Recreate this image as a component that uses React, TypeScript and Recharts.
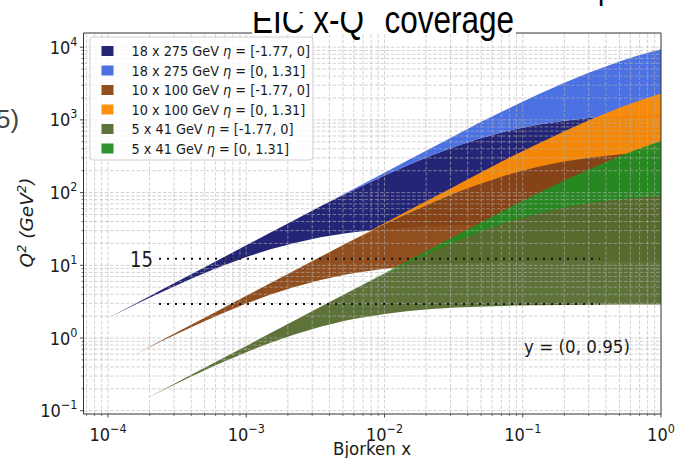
import React from 'react';
import { ComposedChart, Area, XAxis, YAxis, ReferenceLine } from 'recharts';

// Bjorken x sample points
const xs = [1.0e-4, 1.527e-4, 1.862e-4, 2.5e-4, 4e-4, 6e-4, 1e-3, 1.5e-3, 2.2e-3, 3.445e-3, 5.263e-3, 6.418e-3, 1e-2, 1.5e-2, 2.2e-2, 3.3e-2, 4.732e-2, 7.229e-2, 8.816e-2, 0.13, 0.2, 0.3, 0.5, 0.7, 1.0];

const _ = null;
// 18 x 275 GeV
const dark18Low = [1.881, 2.798, 3.358, 4.374, 6.542, 9.028, 12.97, 16.59, 20.18, 24.24, 27.63, 29.02, 31.6, 33.38, 34.61, 35.55, 36.15, 36.64, 36.81, 37.06, 37.25, 37.36, 37.46, 37.5, 37.53];
const dark18High = [1.881, 2.872, 3.502, 4.703, 7.524, 11.29, 18.81, 28.22, 41.38, 64.8, 96.45, 115.7, 171.8, 241.6, 326.0, 434.4, 543.8, 680.1, 743.8, 862.0, 976.4, 1064, 1146, 1185, 1216];
const light18Low = [_, _, _, _, _, _, _, _, _, 64.8, 96.45, 115.7, 171.8, 241.6, 326.0, 434.4, 543.8, 680.1, 743.8, 862.0, 976.4, 1064, 1146, 1185, 1216];
const light18High = [_, _, _, _, _, _, _, _, _, 64.8, 99.0, 120.7, 188.1, 282.2, 413.8, 620.7, 890.1, 1325, 1590, 2249, 3239, 4454, 6362, 7793, 9374];
// 10 x 100 GeV
const dark10Low = [_, 0.5803, 0.6999, 0.9207, 1.406, 1.989, 2.975, 3.955, 5.005, 6.299, 7.481, 7.992, 8.995, 9.724, 10.25, 10.67, 10.93, 11.16, 11.23, 11.35, 11.44, 11.49, 11.54, 11.56, 11.57];
const dark10High = [_, 0.5803, 0.7076, 0.95, 1.52, 2.28, 3.8, 5.7, 8.36, 13.09, 20.0, 24.12, 36.36, 52.17, 72.13, 99.25, 128.5, 167.8, 187.4, 226.1, 266.7, 300.0, 333.3, 350.0, 363.6];
const light10Low = [_, _, _, _, _, _, _, _, _, _, 20.0, 24.12, 36.36, 52.17, 72.13, 99.25, 128.5, 167.8, 187.4, 226.1, 266.7, 300.0, 333.3, 350.0, 363.6];
const light10High = [_, _, _, _, _, _, _, _, _, _, 20.0, 24.39, 38.0, 57.0, 83.6, 125.4, 179.8, 274.7, 331.4, 475.0, 698.3, 984.9, 1466, 1855, 2315];
// 5 x 41 GeV
const dark5Low = [_, _, 0.1451, 0.1915, 0.2947, 0.4207, 0.6393, 0.8637, 1.112, 1.431, 1.735, 1.87, 2.143, 2.347, 2.499, 2.62, 2.699, 2.765, 2.789, 2.824, 2.85, 2.867, 2.88, 2.886, 2.89];
const dark5High = [_, _, 0.1451, 0.1948, 0.3116, 0.4674, 0.779, 1.169, 1.714, 2.684, 4.1, 5.0, 7.579, 10.95, 15.28, 21.3, 27.96, 37.22, 41.96, 51.6, 62.12, 71.1, 80.39, 85.16, 89.13];
const light5Low = [_, _, _, _, _, _, _, _, _, _, _, 5.0, 7.579, 10.95, 15.28, 21.3, 27.96, 37.22, 41.96, 51.6, 62.12, 71.1, 80.39, 85.16, 89.13];
const light5High = [_, _, _, _, _, _, _, _, _, _, _, 5.0, 7.79, 11.69, 17.14, 25.71, 36.86, 56.31, 68.68, 98.92, 146.5, 208.6, 315.8, 404.8, 513.5];

const seriesNames = ['18 x 275 GeV', '18 x 275 GeV', '10 x 100 GeV', '10 x 100 GeV', '5 x 41 GeV', '5 x 41 GeV'];
const etaRanges = ['[-1.77, 0]', '[0, 1.31]', '[-1.77, 0]', '[0, 1.31]', '[-1.77, 0]', '[0, 1.31]'];
const seriesColors = ['#191970', '#4169E1', '#8B4513', '#FF8C00', '#556B2F', '#228B22'];
const seriesLow = [dark18Low, light18Low, dark10Low, light10Low, dark5Low, light5Low];
const seriesHigh = [dark18High, light18High, dark10High, light10High, dark5High, light5High];

// dotted reference segments (Q^2 level, x start, x end)
const dottedQ2 = [12.3, 2.93];
const dottedX = [2.34e-4, 0.362];

const xMajorTicks = [1e-4, 1e-3, 1e-2, 1e-1, 1];
const yMajorTicks = [1e-1, 1, 10, 100, 1000, 10000];

const XMIN = 6.65e-5;
const XMAX = 1;
const YMIN = 0.0901;
const YMAX = 15670;

const xMinor: number[] = [];
for (let d = -5; d <= -1; d++) for (let m = 2; m <= 9; m++) {
  const v = m * Math.pow(10, d);
  if (v > XMIN && v < XMAX) xMinor.push(v);
}
const yMinor: number[] = [];
for (let d = -2; d <= 4; d++) for (let m = 2; m <= 9; m++) {
  const v = m * Math.pow(10, d);
  if (v > YMIN && v < YMAX) yMinor.push(v);
}
const xTicks = [...xMinor, ...xMajorTicks].sort((a, b) => a - b);
const yTicks = [...yMinor, ...yMajorTicks].sort((a, b) => a - b);

const data = xs.map((x, i) => {
  const row: any = { x };
  seriesLow.forEach((lo, s) => {
    row['s' + s] = lo[i] == null ? null : [lo[i], seriesHigh[s][i]];
  });
  return row;
});

const W = 677;
const H = 458;
const PL = 83.5;
const PR = 661;
const PT = 33;
const PB = 414;
const FONT = 'DejaVu Sans';
const TXT = '#1a1a1a';
const SQ = 0.9;
const FILL_OP = 0.95;

const isMajor = (v: number) => {
  const l = Math.log10(v);
  return Math.abs(l - Math.round(l)) < 1e-6;
};
const expText = (v: number) => {
  const e = Math.round(Math.log10(v));
  return e < 0 ? '\u2212' + Math.abs(e) : String(e);
};

const XTick = (props: any) => {
  const { x, payload } = props;
  const v = payload.value;
  const major = isMajor(v);
  return (
    <g>
      <line x1={x} x2={x} y1={PB} y2={PB + (major ? 3.5 : 2)} stroke="#222" strokeWidth={major ? 0.8 : 0.6} />
      {major && (
        <g transform={`translate(${x},${PB + 27}) scale(${SQ},1)`}>
          <text textAnchor="middle" fontFamily={FONT} fontSize={18} fill={TXT}>
            10<tspan dy={-8} fontSize={12.5}>{expText(v)}</tspan>
          </text>
        </g>
      )}
    </g>
  );
};

const YTick = (props: any) => {
  const { y, payload } = props;
  const v = payload.value;
  const major = isMajor(v);
  return (
    <g>
      <line x1={PL - (major ? 3.5 : 2)} x2={PL} y1={y} y2={y} stroke="#222" strokeWidth={major ? 0.8 : 0.6} />
      {major && (
        <g transform={`translate(${PL - 6},${y + 6.5}) scale(${SQ},1)`}>
          <text textAnchor="end" fontFamily={FONT} fontSize={18} fill={TXT}>
            10<tspan dy={-8} fontSize={12.5}>{expText(v)}</tspan>
          </text>
        </g>
      )}
    </g>
  );
};

const gridStyle = { stroke: '#b4b4b4', strokeDasharray: '3.5 1.8', strokeWidth: 0.8, strokeOpacity: 0.75 };

export default function App() {
  return (
    <div style={{ position: 'absolute', left: 0, top: 0, width: W, height: H, background: '#fff' }}>
      <style>{'body{margin:0}'}</style>
      <ComposedChart width={W} height={H} data={data} margin={{ top: PT, right: W - PR, bottom: 0, left: 0 }}>
        <XAxis
          dataKey="x"
          type="number"
          scale="log"
          domain={[XMIN, XMAX]}
          allowDataOverflow
          ticks={xTicks}
          interval={0}
          tick={(p: any) => <XTick {...p} />}
          tickLine={false}
          axisLine={{ stroke: '#333', strokeWidth: 1 }}
          height={H - PB}
        />
        <YAxis
          type="number"
          scale="log"
          domain={[YMIN, YMAX]}
          allowDataOverflow
          ticks={yTicks}
          interval={0}
          tick={(p: any) => <YTick {...p} />}
          tickLine={false}
          axisLine={{ stroke: '#333', strokeWidth: 1 }}
          width={PL}
        />
        {seriesColors.map((c, s) => (
          <Area
            key={'s' + s}
            dataKey={'s' + s}
            type="linear"
            stroke="none"
            fill={c}
            fillOpacity={FILL_OP}
            isAnimationActive={false}
            dot={false}
            activeDot={false}
          />
        ))}
        {xTicks.filter((v) => v < XMAX).map((v) => (
          <ReferenceLine key={'gx' + v} x={v} {...gridStyle} />
        ))}
        {yTicks.map((v) => (
          <ReferenceLine key={'gy' + v} y={v} {...gridStyle} />
        ))}
        {dottedQ2.map((q) => (
          <ReferenceLine
            key={'dot' + q}
            segment={[{ x: dottedX[0], y: q }, { x: dottedX[1], y: q }]}
            stroke="#111"
            strokeWidth={2}
            strokeDasharray="2 6"
          />
        ))}
        <ReferenceLine x={XMAX} stroke="#333" strokeWidth={1} ifOverflow="visible" />
        <ReferenceLine y={YMAX} stroke="#333" strokeWidth={1} ifOverflow="visible" />
      </ComposedChart>
      <svg width={W} height={H} style={{ position: 'absolute', left: 0, top: 0, pointerEvents: 'none' }}>
        {/* title: its upper part is hidden behind a white strip, as in the reference */}
        <rect x={252} y={0} width={264} height={34} fill="#fff" />
        <text x={383} y={33} textAnchor="middle" fontFamily="Liberation Sans" fontSize={39} fill="#000" textLength={262} lengthAdjust="spacingAndGlyphs">
          EIC x-Q<tspan dy={-22} fontSize={26}>2</tspan><tspan dy={22}> coverage</tspan>
        </text>
        <rect x={240} y={0} width={300} height={12} fill="#fff" />
        <text x={587} y={0} fontFamily={FONT} fontSize={28} fill="#000">η</text>
        <text x={-4} y={128} fontFamily="Liberation Sans" fontSize={26} fill="#444">5)</text>
        {/* legend */}
        <rect x={90} y={37} width={223} height={123} rx={3} fill="#fff" fillOpacity={0.8} stroke="#cfcfcf" strokeWidth={1} />
        {seriesColors.map((c, s) => {
          const cy = 51 + s * 19.5;
          return (
            <g key={'lg' + s}>
              <rect x={101.5} y={cy - 5} width={12} height={10} fill={c} fillOpacity={FILL_OP} />
              <g transform={`translate(131.5,${cy + 5}) scale(0.92,1)`}>
                <text fontFamily={FONT} fontSize={14} fill={TXT}>
                  {seriesNames[s] + ' '}
                  <tspan fontStyle="italic">η</tspan>
                  {' = ' + etaRanges[s]}
                </text>
              </g>
            </g>
          );
        })}
        {/* annotations */}
        <text x={130} y={267} fontFamily={FONT} fontSize={21} fill={TXT} textLength={23} lengthAdjust="spacingAndGlyphs">15</text>
        <text x={524} y={353} fontFamily={FONT} fontSize={17} fill={TXT} textLength={106} lengthAdjust="spacingAndGlyphs">y = (0, 0.95)</text>
        {/* axis labels */}
        <text x={372} y={455} textAnchor="middle" fontFamily={FONT} fontSize={17} fill={TXT} textLength={78} lengthAdjust="spacingAndGlyphs">Bjorken x</text>
        <g transform="translate(33,222.5) rotate(-90)">
          <text x={0} y={0} textAnchor="middle" fontFamily={FONT} fontSize={18.5} fontStyle="italic" fill={TXT}>
            Q<tspan dy={-7.5} fontSize={13}>2</tspan><tspan dy={7.5}> (GeV</tspan><tspan dy={-7.5} fontSize={13}>2</tspan><tspan dy={7.5}>)</tspan>
          </text>
        </g>
      </svg>
    </div>
  );
}
